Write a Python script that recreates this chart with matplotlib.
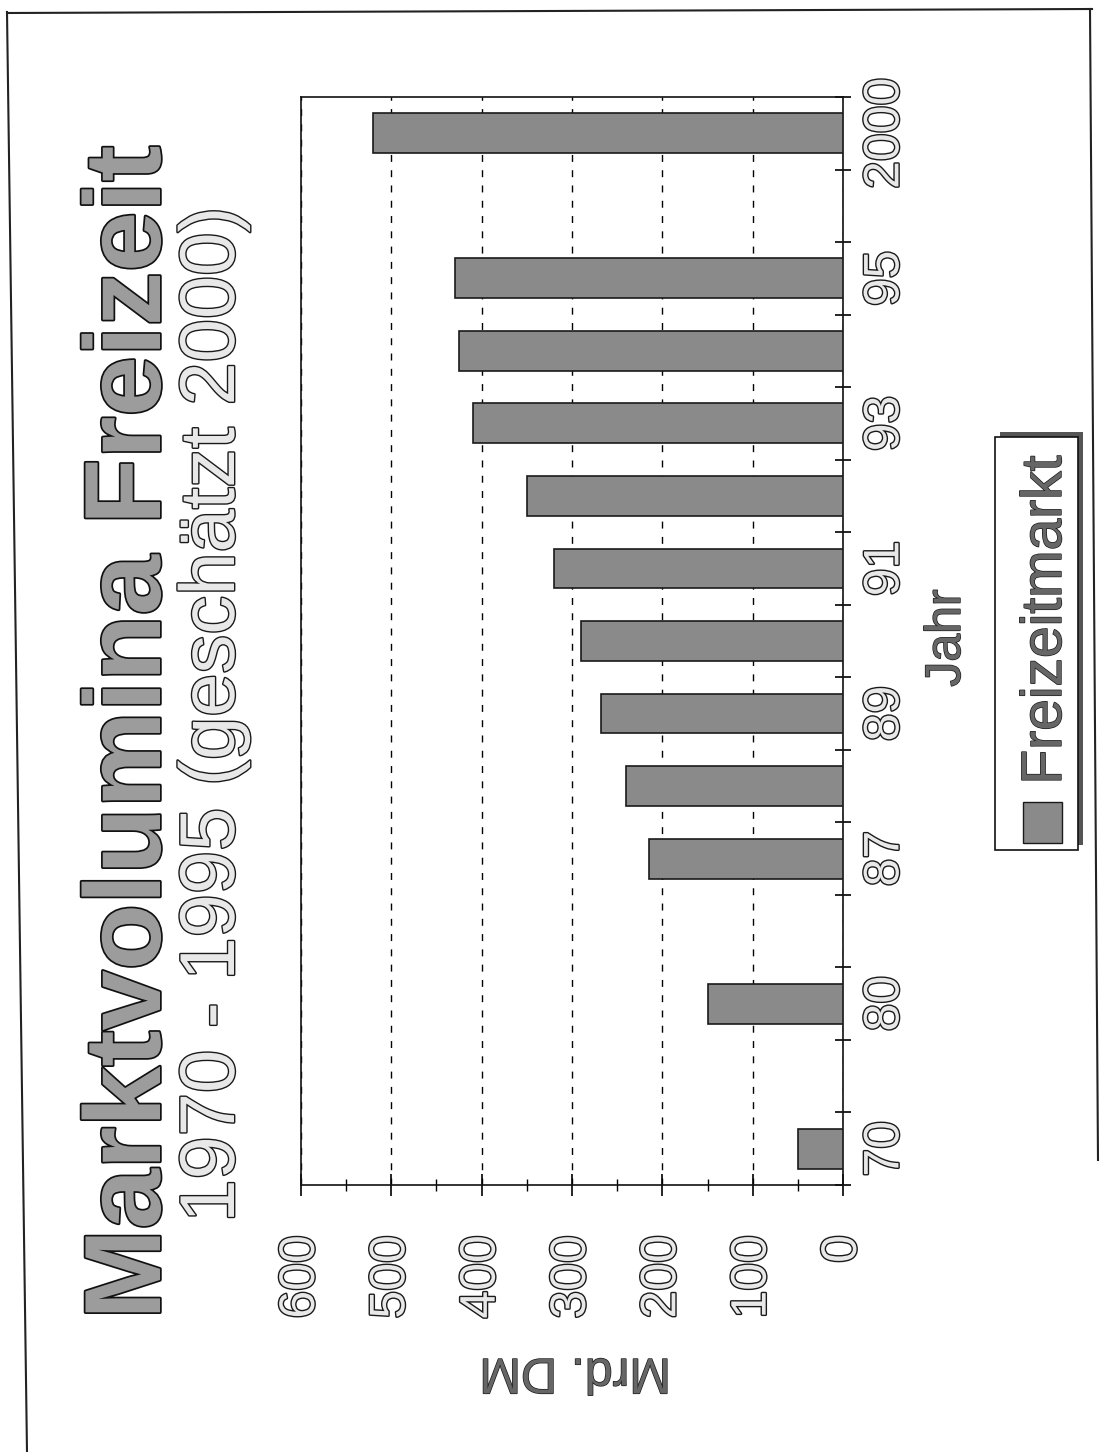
import numpy as np
import matplotlib.pyplot as plt
import matplotlib.patheffects as pe
from matplotlib.patches import Rectangle
from matplotlib.lines import Line2D

plt.rcParams['font.family'] = ['Liberation Sans', 'DejaVu Sans']

# category axis as in the original spreadsheet chart, blank slots included
categories = ['70', '', '80', '', '87', '88', '89', '90', '91', '92', '93', '94', '95', '', '2000']
values = [50, None, 150, None, 215, 240, 268, 290, 320, 350, 410, 425, 430, None, 520]
tick_labels = categories[::2]
value_ticks = [0, 100, 200, 300, 400, 500, 600]

title = 'Marktvolumina Freizeit'
subtitle = '1970 - 1995 (geschätzt 2000)'
value_label = 'Mrd. DM'
category_label = 'Jahr'
series_name = 'Freizeitmarkt'

W, H = 1102, 1452
bar_color = '#8a8a8a'


def fx(px):
    return px / W


def fy(py):
    return 1 - py / H


outline = [pe.Stroke(linewidth=2.0, foreground='#1a1a1a'), pe.Normal()]
solid = [pe.Stroke(linewidth=1.0, foreground='#1a1a1a'), pe.Normal()]

fig = plt.figure(figsize=(W / 100, H / 100), dpi=100)
fig.patch.set_facecolor('white')

# page is printed landscape and scanned upright -> chart turned by 90 degrees
ax = fig.add_axes([fx(301), fy(1185), fx(843) - fx(301), fy(97) - fy(1185)])

pos = np.arange(len(categories))
has_val = np.array([v is not None for v in values])
ax.barh(pos[has_val], [v for v in values if v is not None], height=0.55,
        color=bar_color, edgecolor='#1a1a1a', linewidth=1.2, zorder=3)

ax.set_xlim(600, 0)
ax.set_ylim(-0.5, len(categories) - 0.5)

ax.set_xticks(value_ticks)
ax.set_xticks(np.arange(50, 600, 100), minor=True)
ax.set_xticklabels([str(v) for v in value_ticks], rotation=90, fontsize=36)
ax.tick_params(axis='x', which='major', direction='inout', length=16, width=1.2, pad=28)
ax.tick_params(axis='x', which='minor', direction='inout', length=8, width=1)
ax.xaxis.grid(True, which='major', linestyle=(0, (5, 6)), color='black', linewidth=1)
ax.set_axisbelow(True)

ax.yaxis.tick_right()
ax.set_yticks(pos[::2])
ax.set_yticklabels(tick_labels, rotation=90, va='center', fontsize=36)
ax.set_yticks(np.arange(-0.5, len(categories)), minor=True)
ax.tick_params(axis='y', which='major', length=0, pad=14)
ax.tick_params(axis='y', which='minor', direction='inout', length=12, width=1.2)

for sp in ax.spines.values():
    sp.set_linewidth(1.2)
    sp.set_color('#111111')

for lab in ax.get_xticklabels() + ax.get_yticklabels():
    lab.set_color('#e8e8e8')
    lab.set_path_effects(outline)

# titles
fig.text(fx(160), fy(732), title, rotation=90, rotation_mode='anchor',
         ha='center', va='baseline', fontsize=78, fontweight='bold',
         color='#9c9c9c', path_effects=[pe.Stroke(linewidth=2.5, foreground='#111111'), pe.Normal()])
fig.text(fx(234), fy(715), subtitle, rotation=90, rotation_mode='anchor',
         ha='center', va='baseline', fontsize=56, color='#e8e8e8', path_effects=outline)

# axis titles
fig.text(fx(960), fy(638), category_label, rotation=90, rotation_mode='anchor',
         ha='center', va='baseline', fontsize=36, color='#666666', path_effects=solid)
fig.text(fx(575), fy(1372), value_label, rotation=180, ha='center', va='center',
         fontsize=36, color='#666666', path_effects=solid)

# legend box (turned with the page), shadow on the right/top
fig.add_artist(Rectangle((fx(1000), fy(845)), fx(1083) - fx(1000), fy(432) - fy(845),
                         transform=fig.transFigure, facecolor='#555555', edgecolor='none'))
fig.add_artist(Rectangle((fx(995), fy(850)), fx(1078) - fx(995), fy(437) - fy(850),
                         transform=fig.transFigure, facecolor='white', edgecolor='#111111', linewidth=1.2))
fig.add_artist(Rectangle((fx(1023), fy(843)), fx(1062) - fx(1023), fy(802) - fy(843),
                         transform=fig.transFigure, facecolor=bar_color, edgecolor='#1a1a1a', linewidth=1))
fig.text(fx(1061), fy(620), series_name, rotation=90, rotation_mode='anchor',
         ha='center', va='baseline', fontsize=41, color='#666666', path_effects=solid)

# scanned page border
for xs, ys in [([7, 27], [12, 1452]), ([7, 1092], [13, 9]), ([1090, 1098], [9, 1160])]:
    fig.add_artist(Line2D([fx(x) for x in xs], [fy(y) for y in ys],
                          transform=fig.transFigure, color='#222222', linewidth=1.5))

fig.savefig('out.png', dpi=100)
